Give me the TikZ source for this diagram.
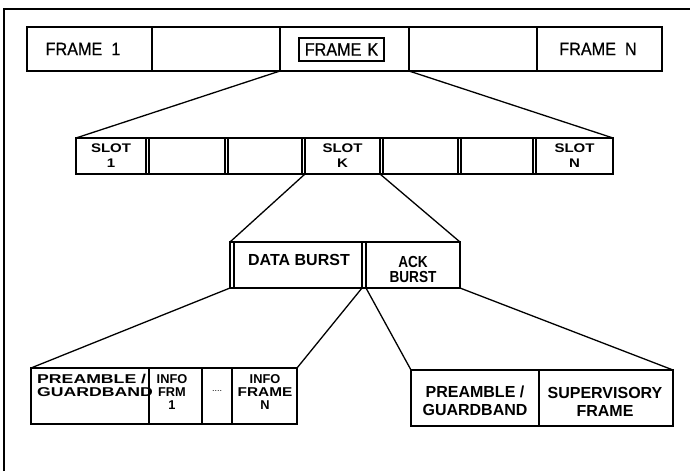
\documentclass[tikz,border=0pt]{standalone}
\usepackage{fontspec}
\setmainfont{Liberation Sans}
\newfontfamily\framefont{Liberation Sans}[FakeStretch=0.9,FakeBold=0.6]
\newfontfamily\wideb{Liberation Sans Bold}[FakeStretch=1.2]
\newfontfamily\widerb{Liberation Sans Bold}[FakeStretch=1.38]
\newfontfamily\boldf{Liberation Sans Bold}
\newfontfamily\condb{Liberation Sans Bold}[FakeStretch=0.85]
\begin{document}
\begin{tikzpicture}[x=1pt,y=-1pt,
  cell/.style={draw,line width=2.2pt,anchor=north west,inner sep=0pt,outer sep=0pt},
  fcell/.style={cell,line width=2.6pt,minimum height=44pt},
  scell/.style={cell,minimum height=36pt},
  conn/.style={line width=1.3pt},
  ftext/.style={font=\framefont\fontsize{18}{18}\selectfont,inner sep=0pt},
  stext/.style={font=\wideb\fontsize{12.5}{15}\selectfont,align=center,inner sep=0pt},
  btext/.style={font=\boldf\fontsize{16}{15}\selectfont,align=center,inner sep=0pt},
  ltext/.style={font=\boldf\fontsize{12.8}{13}\selectfont,inner sep=0pt},
  rtext/.style={font=\boldf\fontsize{16}{18}\selectfont,align=center,inner sep=0pt}]
\useasboundingbox (0,0) rectangle (690,471);
% outer border
\draw[line width=1.5pt] (4,471) -- (4,9) -- (690,9);

% frame row
\node[fcell,minimum width=125pt] (f1) at (27,27) {};
\node[fcell,minimum width=128pt] (f2) at (152,27) {};
\node[fcell,minimum width=129pt] (fk) at (280,27) {};
\node[fcell,minimum width=128pt] (f4) at (409,27) {};
\node[fcell,minimum width=125pt] (fn) at (537,27) {};
\node[ftext] (tf1) at (83,49) {FRAME\hspace{9pt}1};
\node[ftext,draw,line width=1.3pt,minimum width=85pt,minimum height=23pt] (tfk) at (341.5,49.5) {FRAME\hspace{6pt}K};
\node[ftext] (tfn) at (598,49) {FRAME\hspace{9pt}N};

% slot row
\node[scell,minimum width=70pt] (s1) at (76,138) {};
\node[scell,minimum width=76pt] (s2) at (149,138) {};
\node[scell,minimum width=74pt] (s3) at (228,138) {};
\node[scell,minimum width=75pt] (sk) at (305,138) {};
\node[scell,minimum width=75pt] (s5) at (383,138) {};
\node[scell,minimum width=72pt] (s6) at (461,138) {};
\node[scell,minimum width=77pt] (sn) at (536,138) {};
\draw[line width=2.4pt] (s1.north west) rectangle (sn.south east);
\node[stext] (ts1) at (s1.center) {SLOT\\1};
\node[stext] (tsk) at (sk.center) {SLOT\\K};
\node[stext] (tsn) at (sn.center) {SLOT\\N};

% burst row
\node[cell,minimum width=230pt,minimum height=46pt] (burst) at (230,242) {};
\node[cell,minimum width=128pt,minimum height=46pt,line width=1.6pt] (db) at (234,242) {};
\node[cell,minimum width=94pt,minimum height=46pt] (ack) at (366,242) {};
\draw[line width=2.4pt] (burst.north west) rectangle (burst.south east);
\node[btext] (tdb) at (299,260) {DATA BURST};
\node[font=\condb\fontsize{16}{15}\selectfont,align=center,inner sep=0pt] (tack) at (413,269) {ACK\\BURST};

% bottom left group
\node[cell,minimum width=118pt,minimum height=56pt] (pg1) at (31,368) {};
\node[cell,minimum width=53pt,minimum height=56pt] (if1) at (149,368) {};
\node[cell,minimum width=30pt,minimum height=56pt] (dots) at (202,368) {};
\node[cell,minimum width=65pt,minimum height=56pt] (ifn) at (232,368) {};
\node[ltext,align=left,anchor=north west] (tpg1) at (37,374) {{\widerb PREAMBLE /}\\{\widerb GUARDBAND}};
\node[ltext,align=center,anchor=north] (tif1) at (172,374) {INFO\\FRM\\1};
\node[font=\fontsize{9}{9}\selectfont,inner sep=0pt] (tdots) at (217,391) {....};
\node[ltext,align=center,anchor=north] (tifn) at (265,374) {INFO\\{\wideb FRAME}\\N};

% bottom right group
\node[cell,minimum width=128pt,minimum height=56pt] (pg2) at (411,370) {};
\node[cell,minimum width=134pt,minimum height=56pt] (sup) at (539,370) {};
\node[rtext] (tpg2) at (475,401) {PREAMBLE /\\GUARDBAND};
\node[rtext] (tsup) at (605,402) {SUPERVISORY\\FRAME};

% connectors
\draw[conn] (fk.south west) -- (s1.north west);
\draw[conn] (fk.south east) -- (sn.north east);
\draw[conn] (sk.south west) -- (burst.north west);
\draw[conn] (sk.south east) -- (burst.north east);
\draw[conn] (burst.south west) -- (pg1.north west);
\draw[conn] (db.south east) -- (ifn.north east);
\draw[conn] (ack.south west) -- (pg2.north west);
\draw[conn] (burst.south east) -- (sup.north east);
\end{tikzpicture}
\end{document}
